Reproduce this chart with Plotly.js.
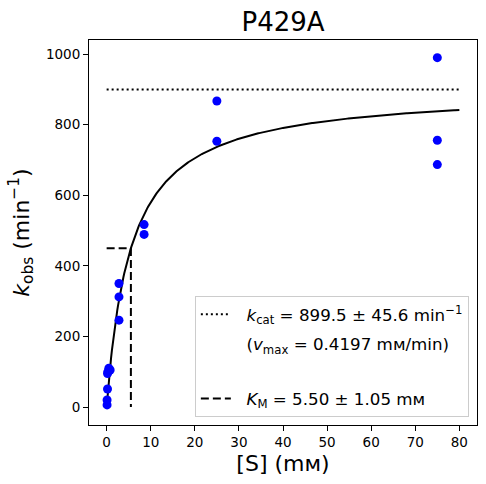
<!DOCTYPE html>
<html>
<head>
<meta charset="utf-8">
<script src="https://cdn.plot.ly/plotly-3.0.1.min.js"></script>
<style>html,body{margin:0;padding:0;background:#fff;}#chart{width:486px;height:484px;}</style>
</head>
<body>
<div id="chart"></div>
<script>
// Measured data: substrate concentration [S] (mM) and observed rate k_obs (min^-1)
const substrate = [0.1, 0.1, 0.2, 0.2, 0.3, 0.5, 0.8, 2.8, 2.8, 2.8, 8.5, 8.5, 25, 25, 75, 75, 75];
const kobs      = [6, 20, 51, 95, 100, 110, 105, 246, 312, 350, 489, 517, 753, 867, 687, 756, 990];

// Fitted Michaelis-Menten parameters (from legend)
const kcat = 899.5;
const KM = 5.50;
const fitRange = [0, 80];

// Tick values
const xTicks = [0, 10, 20, 30, 40, 50, 60, 70, 80];
const yTicks = [0, 200, 400, 600, 800, 1000];

const pad = '&nbsp;&nbsp;';
const labelKcat = pad + '<i>k</i><sub>cat</sub> = 899.5 ± 45.6 min<sup>−1</sup>';
const labelVmax = pad + '(<i>v</i><sub>max</sub> = 0.4197 mᴍ/min)';
const labelKM = pad + '<i>K</i><sub>M</sub> = 5.50 ± 1.05 mᴍ';

// Fit curve from fitted parameters
const fitX = [];
for (let i = 0; i <= 400; i++) fitX.push(fitRange[0] + (fitRange[1] - fitRange[0]) * i / 400);
const fitY = fitX.map(s => kcat * s / (KM + s));

const font = 'DejaVu Sans, sans-serif';

const traces = [
  {x: fitX, y: fitY, mode: 'lines', line: {color: 'black', width: 2}, showlegend: false, hoverinfo: 'skip'},
  {x: substrate, y: kobs, mode: 'markers', marker: {color: 'blue', size: 9}, showlegend: false},
  {x: fitRange, y: [kcat, kcat], mode: 'lines', line: {color: 'black', width: 2, dash: '2px,3px'},
   name: labelKcat, legendgroup: 'a'},
  {x: [null], y: [null], mode: 'lines', line: {color: 'rgba(0,0,0,0)', width: 0},
   name: labelVmax, legendgroup: 'b'},
  {x: [null], y: [null], mode: 'lines', line: {color: 'rgba(0,0,0,0)', width: 0},
   name: ' ', legendgroup: 'b'},
  {x: [0, KM, KM], y: [kcat / 2, kcat / 2, 0], mode: 'lines',
   line: {color: 'black', width: 2, dash: '8px,4px'}, name: labelKM, legendgroup: 'd'}
];

const axisCommon = {
  showline: true, mirror: true, linecolor: 'black', linewidth: 1,
  ticks: 'outside', ticklen: 5, tickwidth: 1, tickcolor: 'black',
  showgrid: false, zeroline: false,
  tickfont: {family: font, size: 13.5, color: 'black'}
};

const layout = {
  width: 486, height: 484,
  margin: {l: 89, r: 9, t: 40, b: 59},
  paper_bgcolor: 'white', plot_bgcolor: 'white',
  font: {family: font, color: 'black'},
  title: {text: 'P429A', font: {family: font, size: 26, color: 'black'},
          x: 0.5, xref: 'paper', xanchor: 'center', y: 0.955, yanchor: 'middle'},
  xaxis: Object.assign({}, axisCommon, {
    range: [-4, 84], tickvals: xTicks, ticktext: xTicks.map(String),
    title: {text: '[S] (mᴍ)', font: {family: font, size: 22, color: 'black'}, standoff: 6}
  }),
  yaxis: Object.assign({}, axisCommon, {
    range: [-51, 1040], tickvals: yTicks, ticktext: yTicks.map(String),
    title: {text: '<i>k</i><sub>obs</sub> (min<sup>−1</sup>)', font: {family: font, size: 22, color: 'black'}, standoff: 10}
  }),
  showlegend: true,
  legend: {
    x: 0.979, y: 0.021, xanchor: 'right', yanchor: 'bottom',
    bgcolor: 'rgba(255,255,255,0.8)', bordercolor: '#cccccc', borderwidth: 1,
    font: {family: font, size: 16.7, color: 'black'},
    tracegroupgap: 5, itemwidth: 30
  }
};

Plotly.newPlot('chart', traces, layout, {staticPlot: true, displayModeBar: false});
</script>
</body>
</html>
